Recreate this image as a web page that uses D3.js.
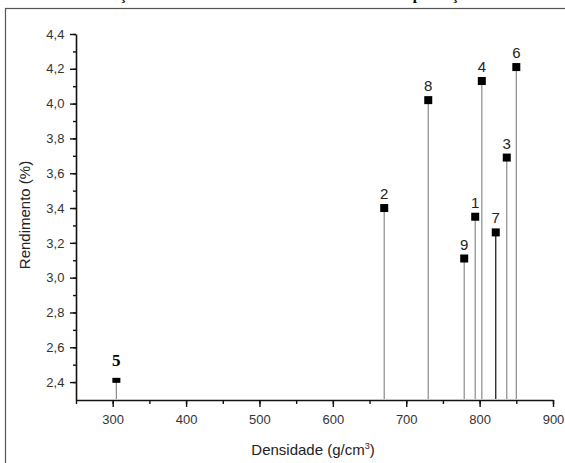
<!DOCTYPE html>
<html>
<head>
<meta charset="utf-8">
<script src="https://cdn.jsdelivr.net/npm/d3@7"></script>
<style>
	body { margin: 0; background: #fff; }
	svg { display: block; font-family: 'Liberation Sans', Arial, sans-serif; }
</style>
</head>
<body>
<script>
	// sample labels, density (g/cm3) and yield (%)
	var labels = ["5", "2", "8", "9", "1", "4", "7", "3", "6"];
	var densidade = [305, 670, 730, 779, 794, 803, 822, 837, 850];
	var rendimento = [2.41, 3.40, 4.02, 3.11, 3.35, 4.13, 3.26, 3.69, 4.21];
	var xTicks = [300, 400, 500, 600, 700, 800, 900];
	var yTicks = [2.4, 2.6, 2.8, 3.0, 3.2, 3.4, 3.6, 3.8, 4.0, 4.2, 4.4];

	var W = 565, H = 463;
	var margin = { top: 34, right: 12, bottom: 63, left: 76 };

	var svg = d3.select("body").append("svg")
		.attr("width", W)
		.attr("height", H);

	// outer frame and the cut off caption above it
	svg.append("rect")
		.attr("x", 5.5).attr("y", 8.5)
		.attr("width", W - 3).attr("height", H)
		.attr("fill", "none")
		.attr("stroke", "#555")
		.attr("stroke-width", 1.2);

	svg.append("text")
		.attr("x", 282).attr("y", 0)
		.attr("text-anchor", "middle")
		.style("font-family", "'Liberation Serif', serif")
		.style("font-weight", "bold")
		.style("font-size", "15px")
		.text("Relação entre o rendimento e a densidade de cada produção");

	var x = d3.scaleLinear()
		.domain([250, 900])
		.range([margin.left, 553]);

	var y = d3.scaleLinear()
		.domain([2.297, 4.4])
		.range([400, margin.top]);

	var g = svg.append("g");

	// y axis, minor then major
	g.append("g")
		.attr("transform", "translate(" + margin.left + ",0)")
		.call(d3.axisLeft(y).tickValues(d3.range(2.4, 4.41, 0.1)).tickSize(3).tickFormat(""))
		.call(a => a.select(".domain").remove());
	var yAxis = g.append("g")
		.attr("transform", "translate(" + margin.left + ",0)")
		.call(d3.axisLeft(y).tickValues(yTicks).tickSize(6).tickSizeOuter(0)
			.tickFormat(d => d3.format(".1f")(d).replace(".", ",")));

	// x axis
	g.append("g")
		.attr("transform", "translate(0,400)")
		.call(d3.axisBottom(x).tickValues(d3.range(250, 901, 50)).tickSize(4).tickFormat(""))
		.call(a => a.select(".domain").remove());
	var xAxis = g.append("g")
		.attr("transform", "translate(0,400)")
		.call(d3.axisBottom(x).tickValues(xTicks).tickSize(7).tickSizeOuter(0));

	g.selectAll(".domain").attr("stroke", "#111").attr("stroke-width", 1.6);
	g.selectAll(".tick line").attr("stroke", "#111").attr("stroke-width", 1.4);
	g.selectAll(".tick text")
		.style("font-size", "13px")
		.attr("fill", "#333");
	xAxis.selectAll(".tick text").attr("dy", "1.05em");
	yAxis.selectAll(".tick text").attr("dx", "-0.2em");

	// axis titles
	svg.append("text")
		.attr("x", 313).attr("y", 455)
		.attr("text-anchor", "middle")
		.style("font-size", "15px")
		.attr("fill", "#222")
		.html('Densidade (g/cm<tspan dy="-6" font-size="9">3</tspan><tspan dy="6">)</tspan>');

	svg.append("text")
		.attr("transform", "translate(30,215) rotate(-90)")
		.attr("text-anchor", "middle")
		.style("font-size", "15px")
		.attr("fill", "#222")
		.text("Rendimento (%)");

	var pts = labels.map((l, i) => ({ label: l, x: densidade[i], y: rendimento[i] }));

	// drop lines
	svg.selectAll("line.stem")
		.data(pts)
		.enter().append("line")
		.attr("class", "stem")
		.attr("x1", d => x(d.x)).attr("x2", d => x(d.x))
		.attr("y1", d => y(d.y)).attr("y2", 399)
		.attr("stroke", d => d.label == "7" ? "#111" : "#8a8a8a")
		.attr("stroke-width", 1.2);

	// square markers
	svg.selectAll("rect.pt")
		.data(pts)
		.enter().append("rect")
		.attr("class", "pt")
		.attr("x", d => x(d.x) - 4)
		.attr("y", d => y(d.y) - (d.label == "5" ? 2.5 : 4))
		.attr("width", 8)
		.attr("height", d => d.label == "5" ? 5 : 8)
		.attr("fill", "#000");

	svg.selectAll("text.lbl")
		.data(pts)
		.enter().append("text")
		.attr("class", "lbl")
		.attr("x", d => x(d.x))
		.attr("y", d => y(d.y) - (d.label == "5" ? 14 : 9))
		.attr("text-anchor", "middle")
		.style("font-family", d => d.label == "5" ? "'Liberation Serif', serif" : null)
		.style("font-weight", d => d.label == "5" ? "bold" : null)
		.style("font-size", d => d.label == "5" ? "17px" : "15px")
		.attr("fill", d => d.label == "5" ? "#000" : "#222")
		.text(d => d.label);
</script>
</body>
</html>
